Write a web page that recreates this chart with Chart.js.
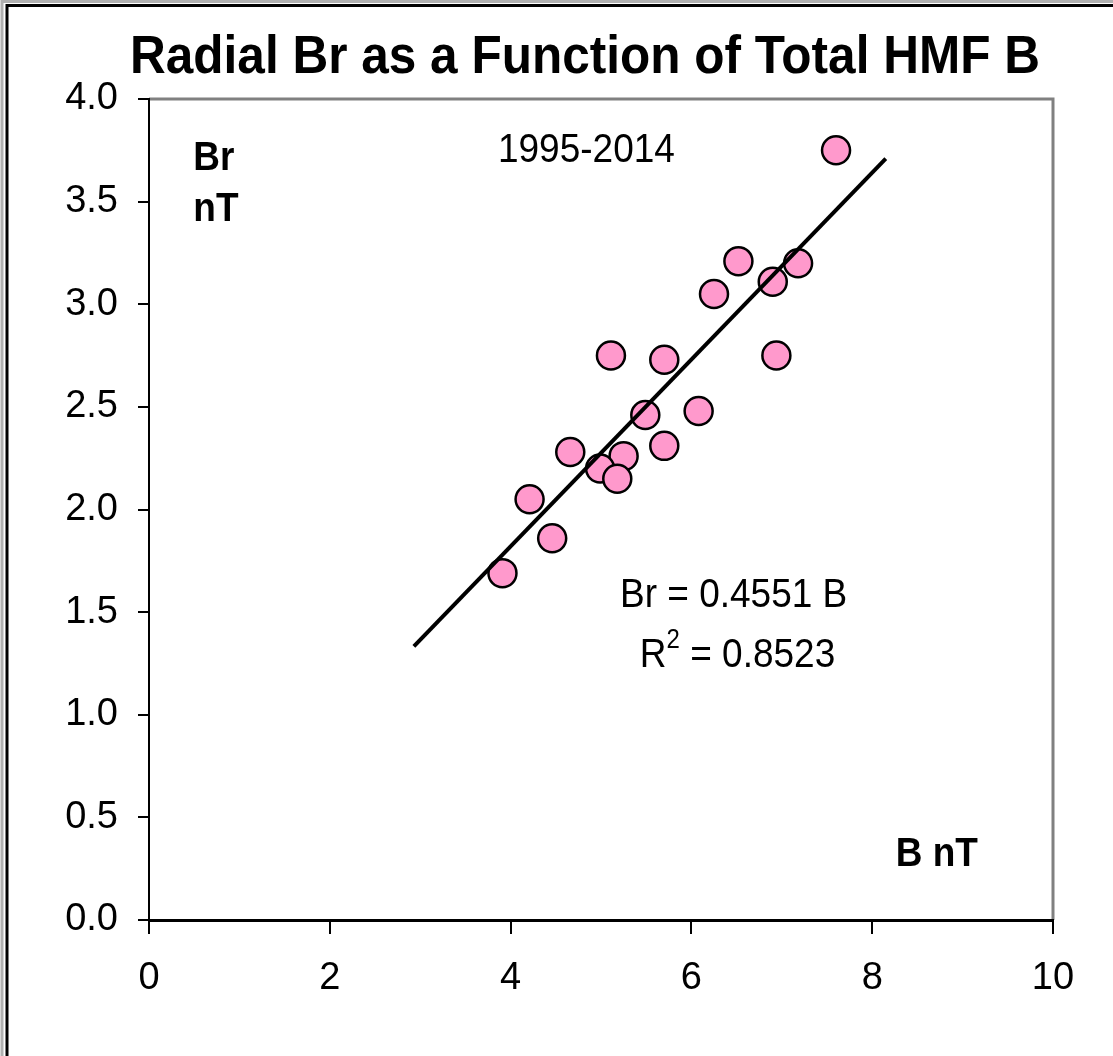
<!DOCTYPE html>
<html>
<head>
<meta charset="utf-8">
<script src="https://cdn.jsdelivr.net/npm/chart.js@4"></script>
<style>
  body { margin: 0; background: #fff; }
</style>
</head>
<body>
<canvas id="brChart" width="1113" height="1056"></canvas>
<script>
// Yearly averages 1995-2014
const totalB = [7.60, 6.52, 7.18, 6.90, 6.25, 5.11, 5.70, 6.94, 5.49, 6.08, 5.70, 4.66, 5.25, 4.99, 5.18, 4.21, 4.46, 3.91];
const radialBr = [3.75, 3.21, 3.20, 3.11, 3.05, 2.75, 2.73, 2.75, 2.46, 2.48, 2.31, 2.28, 2.26, 2.20, 2.15, 2.05, 1.86, 1.69];
const fitSlope = 0.4551;
const fitRange = [2.93, 8.15];
const xTicks = [0, 2, 4, 6, 8, 10];
const yTicks = [0.0, 0.5, 1.0, 1.5, 2.0, 2.5, 3.0, 3.5, 4.0];

const points = totalB.map((b, i) => ({ x: b, y: radialBr[i] }));
const fitLine = fitRange.map(b => ({ x: b, y: fitSlope * b }));

const font = "'Liberation Sans', Arial, sans-serif";

// text slightly stretched vertically, like the original
function tallText(ctx, txt, x, y, stretch) {
    ctx.save();
    ctx.translate(x, y);
    ctx.scale(1, stretch);
    ctx.fillText(txt, 0, 0);
    ctx.restore();
}

const decorations = {
    id: "decorations",
    beforeDraw(chart) {
        const ctx = chart.ctx;
        ctx.save();
        ctx.fillStyle = "#fff";
        ctx.fillRect(0, 0, chart.width, chart.height);
        // outer frame
        ctx.strokeStyle = "#b0b0b0";
        ctx.lineWidth = 3;
        ctx.beginPath();
        ctx.moveTo(2, chart.height);
        ctx.lineTo(2, 1.5);
        ctx.lineTo(chart.width, 1.5);
        ctx.stroke();
        ctx.strokeStyle = "#000";
        ctx.lineWidth = 3;
        ctx.beginPath();
        ctx.moveTo(7, chart.height);
        ctx.lineTo(7, 5.5);
        ctx.lineTo(chart.width, 5.5);
        ctx.stroke();
        // plot area border (top / right)
        const a = chart.chartArea;
        ctx.strokeStyle = "#808080";
        ctx.lineWidth = 3;
        ctx.beginPath();
        ctx.moveTo(a.left, a.top);
        ctx.lineTo(a.right, a.top);
        ctx.lineTo(a.right, a.bottom);
        ctx.stroke();
        ctx.restore();
    },
    afterDraw(chart) {
        const ctx = chart.ctx;
        const xs = chart.scales.x, ys = chart.scales.y;
        ctx.save();
        ctx.fillStyle = "#000";
        ctx.textBaseline = "middle";
        ctx.textAlign = "center";
        ctx.font = "bold 50px " + font;
        ctx.save();
        ctx.translate(585, 58);
        ctx.scale(1, 1.08);
        ctx.fillText("Radial Br as a Function of Total HMF B", 0, 0, 910);
        ctx.restore();

        ctx.textAlign = "left";
        const put = (txt, x, y, bold) => {
            ctx.font = (bold ? "bold " : "") + "37px " + font;
            tallText(ctx, txt, xs.getPixelForValue(x), ys.getPixelForValue(y), 1.12);
        };
        put("Br", 0.49, 3.71, true);
        put("nT", 0.49, 3.46, true);
        put("1995-2014", 3.86, 3.75, false);
        put("Br = 0.4551 B", 5.21, 1.58, false);
        put("B nT", 8.26, 0.32, true);

        // R² label with superscript
        ctx.font = "37px " + font;
        const rx = xs.getPixelForValue(5.43), ry = ys.getPixelForValue(1.29);
        tallText(ctx, "R", rx, ry, 1.12);
        const rw = ctx.measureText("R").width;
        ctx.font = "24px " + font;
        tallText(ctx, "2", rx + rw, ry - 15, 1.12);
        const sw = ctx.measureText("2").width;
        ctx.font = "37px " + font;
        tallText(ctx, " = 0.8523", rx + rw + sw, ry, 1.12);
        ctx.restore();
    }
};

new Chart(document.getElementById("brChart").getContext("2d"), {
    type: "scatter",
    data: {
        datasets: [
            {
                label: "Br vs B",
                data: points,
                backgroundColor: "#FF99CC",
                borderColor: "#000",
                borderWidth: 2.5,
                pointRadius: 14,
                order: 1,
            },
            {
                label: "fit",
                data: fitLine,
                showLine: true,
                borderColor: "#000",
                borderWidth: 4,
                pointRadius: 0,
                order: 0,
            },
        ],
    },
    options: {
        responsive: false,
        animation: false,
        layout: { padding: { top: 99, right: 60, left: 0, bottom: 0 } },
        plugins: {
            legend: { display: false },
            tooltip: { enabled: false },
        },
        scales: {
            x: {
                type: "linear",
                min: 0,
                max: 10,
                afterBuildTicks: s => { s.ticks = xTicks.map(v => ({ value: v })); },
                afterFit: s => { s.height = 136; },
                border: { color: "#000", width: 3 },
                grid: { drawOnChartArea: false, color: "#000", lineWidth: 2, tickLength: 14 },
                ticks: { color: "#000", padding: 22, font: { family: font, size: 38 } },
            },
            y: {
                type: "linear",
                min: 0,
                max: 4,
                afterBuildTicks: s => { s.ticks = yTicks.map(v => ({ value: v })); },
                afterFit: s => { s.width = 149; },
                border: { color: "#000", width: 2 },
                grid: { drawOnChartArea: false, color: "#000", lineWidth: 2, tickLength: 11 },
                ticks: {
                    color: "#000",
                    padding: 20,
                    font: { family: font, size: 38 },
                    callback: v => v.toFixed(1),
                },
            },
        },
    },
    plugins: [decorations],
});
</script>
</body>
</html>
